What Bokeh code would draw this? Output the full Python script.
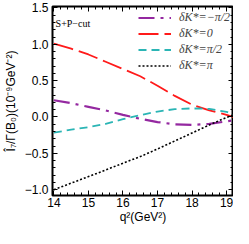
from bokeh.plotting import figure
from bokeh.models import (FixedTicker, LinearAxis, Legend, LegendItem, Label,
                          Range1d, CustomJSTickFormatter)
from bokeh.embed import file_html
from bokeh.resources import INLINE

q2 = [14.0, 14.5, 15.0, 15.5, 16.0, 16.5, 17.0, 17.5, 18.0, 18.5, 19.0, 19.2]
i7_minus_half_pi = [0.23, 0.19, 0.14, 0.09, 0.03, -0.025, -0.07, -0.10, -0.11, -0.095, -0.06, -0.045]
i7_zero = [1.01, 0.94, 0.86, 0.76, 0.66, 0.56, 0.43, 0.29, 0.17, 0.09, 0.03, 0.0]
i7_half_pi = [-0.215, -0.175, -0.14, -0.095, -0.03, 0.025, 0.075, 0.108, 0.118, 0.112, 0.07, 0.035]
i7_pi = [-1.0, -0.91, -0.82, -0.73, -0.635, -0.545, -0.44, -0.33, -0.22, -0.11, -0.005, 0.03]

labels = ["δK*=−π/2", "δK*=0", "δK*=π/2", "δK*=π"]
x_ticks = [14, 15, 16, 17, 18, 19]
y_ticks = [-1.0, -0.5, 0.0, 0.5, 1.0, 1.5]

p = figure(width=233, height=228, output_backend="svg", toolbar_location=None,
           x_range=Range1d(13.96, 19.2), y_range=Range1d(-1.08, 1.52),
           min_border_left=43, min_border_right=0, min_border_top=6, min_border_bottom=33)
p.background_fill_color = "white"
p.outline_line_color = "black"
p.outline_line_width = 2
p.grid.visible = False

x_minor = [round(13.8 + 0.2 * i, 1) for i in range(0, 29)]
y_minor = [round(-1.1 + 0.1 * i, 1) for i in range(0, 28)]

fmt = CustomJSTickFormatter(code="return tick.toFixed(1).replace('-', '\u2212');")
fmtx = CustomJSTickFormatter(code="return tick.toFixed(0);")
blank = CustomJSTickFormatter(code="return '';")

for ax in [p.xaxis[0], p.yaxis[0]]:
    ax.major_tick_in = 5
    ax.major_tick_out = 0
    ax.minor_tick_in = 3
    ax.minor_tick_out = 0
    ax.axis_line_color = None
    ax.major_label_text_font = "Liberation Sans"
    ax.major_label_text_font_size = "12px"
    ax.major_label_text_color = "black"
    ax.axis_label_text_font = "Liberation Sans"
    ax.axis_label_text_font_size = "12px"
    ax.axis_label_text_font_style = "normal"
    ax.axis_label_text_color = "black"

p.xaxis[0].ticker = FixedTicker(ticks=x_ticks, minor_ticks=x_minor)
p.yaxis[0].ticker = FixedTicker(ticks=y_ticks, minor_ticks=y_minor)
p.xaxis[0].formatter = fmtx
p.yaxis[0].formatter = fmt
p.xaxis[0].axis_label = "q²(GeV²)"
p.yaxis[0].axis_label = "Î₇/Γ(B₀)(10⁻⁹GeV⁻²)"
p.xaxis[0].major_label_standoff = 2
p.yaxis[0].major_label_standoff = 4
p.xaxis[0].axis_label_standoff = 0
p.yaxis[0].axis_label_standoff = 4

right = LinearAxis(ticker=FixedTicker(ticks=y_ticks, minor_ticks=y_minor),
                   formatter=blank, major_label_standoff=0, major_label_text_font_size="1px",
                   major_tick_in=5, major_tick_out=0, minor_tick_in=3, minor_tick_out=0,
                   axis_line_color=None)
top = LinearAxis(ticker=FixedTicker(ticks=x_ticks, minor_ticks=x_minor),
                 formatter=blank, major_label_standoff=0, major_label_text_font_size="1px",
                 major_tick_in=5, major_tick_out=0, minor_tick_in=3, minor_tick_out=0,
                 axis_line_color=None)
p.add_layout(right, "right")
p.add_layout(top, "above")

r1 = p.line(q2, i7_minus_half_pi, line_color="#9428A0", line_width=2.2, line_dash="16 6 3 6")
r2 = p.line(q2, i7_zero, line_color="#FF1A1A", line_width=1.8, line_dash="20 6")
r3 = p.line(q2, i7_half_pi, line_color="#2BB5B5", line_width=1.8, line_dash="8 5")
r4 = p.line(q2, i7_pi, line_color="black", line_width=1.6, line_dash="2 2")

legend = Legend(items=[LegendItem(label=labels[0], renderers=[r1]),
                       LegendItem(label=labels[1], renderers=[r2]),
                       LegendItem(label=labels[2], renderers=[r3]),
                       LegendItem(label=labels[3], renderers=[r4])],
                location=(86, 122), orientation="vertical",
                border_line_color=None, background_fill_alpha=0,
                padding=0, margin=0, spacing=1,
                glyph_width=33, glyph_height=15, label_height=15,
                label_standoff=8,
                label_text_font="Liberation Serif", label_text_font_size="12px",
                label_text_font_style="italic")
p.add_layout(legend, "center")

p.add_layout(Label(x=14.05, y=1.28, text="S+P−cut", text_font="Liberation Serif",
                   text_font_size="10px", text_baseline="middle", text_color="black"))

open("out.html", "w").write(file_html(p, INLINE))
